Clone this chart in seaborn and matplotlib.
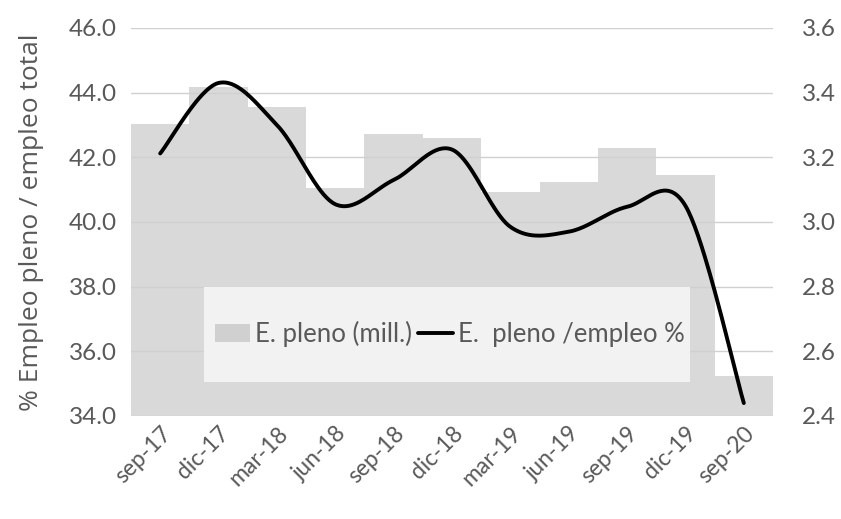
import numpy as np
import pandas as pd
import matplotlib
matplotlib.use("Agg")
import matplotlib.pyplot as plt
import seaborn as sns
from matplotlib.patches import Rectangle
from matplotlib.lines import Line2D
from matplotlib.patches import Patch

# ---- data ----
categories = ["sep-17", "dic-17", "mar-18", "jun-18", "sep-18", "dic-18",
              "mar-19", "jun-19", "sep-19", "dic-19", "sep-20"]
empleo_pleno_mill = [3.302, 3.416, 3.356, 3.106, 3.272, 3.260,
                     3.093, 3.123, 3.228, 3.145, 2.525]
pleno_pct = [42.12, 44.30, 43.00, 40.55, 41.30, 42.24,
             39.85, 39.70, 40.47, 40.50, 34.40]
left_ticks = [34.0, 36.0, 38.0, 40.0, 42.0, 44.0, 46.0]
right_ticks = [2.4, 2.6, 2.8, 3.0, 3.2, 3.4, 3.6]

sns.set_theme(style="white")
plt.rcParams['font.family'] = ['Lato', 'DejaVu Sans']
GREY_TXT = "#595959"


def catmull_rom(y, n=40):
    y = np.asarray(y, dtype=float)
    x = np.arange(len(y), dtype=float)
    P = np.concatenate([[y[0]], y, [y[-1]]])
    X = np.concatenate([[x[0]], x, [x[-1]]])
    xs, ys = [], []
    for i in range(1, len(P) - 2):
        t = np.linspace(0, 1, n, endpoint=False)
        for arr, out in ((X, xs), (P, ys)):
            p0, p1, p2, p3 = arr[i - 1], arr[i], arr[i + 1], arr[i + 2]
            out.extend(0.5 * ((2 * p1) + (-p0 + p2) * t +
                              (2 * p0 - 5 * p1 + 4 * p2 - p3) * t ** 2 +
                              (-p0 + 3 * p1 - 3 * p2 + p3) * t ** 3))
    xs.append(x[-1]); ys.append(y[-1])
    return np.array(xs), np.array(ys)


fig = plt.figure(figsize=(8.41, 5.19), dpi=100)
ax1 = fig.add_axes([131 / 841, 1 - 416 / 519, (773 - 131) / 841, (416 - 28) / 519])
ax2 = ax1.twinx()

df = pd.DataFrame({"cat": categories, "val": empleo_pleno_mill})
sns.barplot(data=df, x="cat", y="val", ax=ax2, color="#D9D9D9",
            saturation=1, width=1.0, linewidth=0, order=categories)
ax2.set_ylim(2.4, 3.6)
ax2.set_yticks(right_ticks)
ax2.set_yticklabels([f"{v:.1f}" for v in right_ticks])
ax2.set_ylabel("")
ax2.set_xlabel("")

xs, ys = catmull_rom(pleno_pct)
sns.lineplot(x=xs, y=ys, ax=ax1, color="black", linewidth=2.8, sort=False,
             estimator=None, zorder=4)
ax1.set_zorder(ax2.get_zorder() + 1)
ax1.patch.set_visible(False)
ax1.set_ylim(34, 46)
ax1.set_yticks(left_ticks)
ax1.set_yticklabels([f"{v:.1f}" for v in left_ticks])
ax1.set_xlim(-0.5, len(categories) - 0.5)
ax1.set_xticks(range(len(categories)))
ax1.set_xticklabels(categories, rotation=45, ha="right", rotation_mode="anchor")
ax1.grid(axis="y", color="#D0D0D0", linewidth=1.0, zorder=1)
ax1.grid(axis="x", visible=False)
ax1.set_axisbelow(True)
ax1.set_ylabel("% Empleo pleno / empleo total", fontsize=19, color=GREY_TXT,
               fontfamily=["Open Sans", "DejaVu Sans"])
ax1.yaxis.set_label_coords(-0.135, 0.5)

for ax in (ax1, ax2):
    for s in ax.spines.values():
        s.set_visible(False)
    ax.tick_params(axis="both", length=0, labelsize=17.5, labelcolor=GREY_TXT)
ax1.tick_params(axis="y", pad=10)
ax2.tick_params(axis="y", pad=21)
ax1.tick_params(axis="x", pad=5, labelsize=16.5)

# legend box
rect = Rectangle((204 / 841, 1 - 381.5 / 519), (690 - 204) / 841, (381.5 - 287) / 519,
                 transform=fig.transFigure, facecolor="#F2F2F2", edgecolor="none",
                 zorder=5)
ax1.add_artist(rect)
handles = [Patch(facecolor="#D0D0D0", edgecolor="none"),
           Line2D([0], [0], color="black", linewidth=2.8)]
leg = ax1.legend(handles, ["E. pleno (mill.)", "E.  pleno /empleo %"],
                 loc="center", bbox_to_anchor=(450 / 841, 1 - 334 / 519),
                 bbox_transform=fig.transFigure, ncol=2, frameon=False,
                 fontsize=18.5, handlelength=1.35, handleheight=0.65,
                 handletextpad=0.2, columnspacing=0.25, labelcolor=GREY_TXT)
leg.set_zorder(6)

fig.savefig("out.png", dpi=100)
